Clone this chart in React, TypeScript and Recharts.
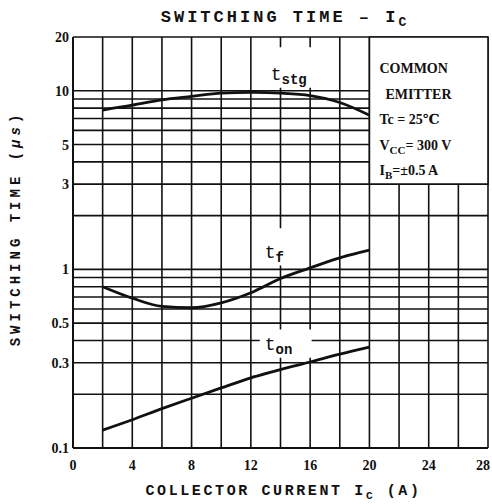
import React from 'react';
import { ComposedChart, Line, XAxis, YAxis, CartesianGrid, ReferenceArea } from 'recharts';

// collector current I_C (A)
const currents = [2, 4, 6, 8, 10, 12, 14, 16, 18, 20];
// switching times (us)
const tStg = [7.8, 8.3, 8.9, 9.3, 9.7, 9.8, 9.7, 9.4, 8.6, 7.3];
const tF = [0.8, 0.69, 0.62, 0.61, 0.65, 0.74, 0.89, 1.02, 1.16, 1.28];
const tOn = [0.126, 0.144, 0.166, 0.19, 0.217, 0.247, 0.275, 0.303, 0.335, 0.367];

const xGrid = [0, 2, 4, 6, 8, 10, 12, 14, 16, 18, 20, 22, 24, 26, 28];
const xLabels = [0, 4, 8, 12, 16, 20, 24, 28];
const yGrid = [0.1, 0.2, 0.3, 0.4, 0.5, 0.6, 0.7, 0.8, 0.9, 1, 2, 3, 4, 5, 6, 7, 8, 9, 10, 20];
const yLabels = [0.1, 0.3, 0.5, 1, 3, 5, 10, 20];

// curve name tags: [main, subscript, x1, x2, y1, y2]
const tags: [string, string, number, number, number, number][] = [
  ['t', 'stg', 13.0, 17.5, 10.4, 17.5],
  ['t', 'f', 12.6, 15.7, 1.05, 1.7],
  ['t', 'on', 12.6, 16.1, 0.32, 0.46],
];

// [indent, text, subscript, rest]
const conditions: [number, string, string, string][] = [
  [0, 'COMMON', '', ''],
  [6, 'EMITTER', '', ''],
  [0, 'Tc = 25℃', '', ''],
  [0, 'V', 'CC', '= 300 V'],
  [0, 'I', 'B', '=±0.5 A'],
];

const data = currents.map((c, i) => ({ ic: c, stg: tStg[i], f: tF[i], on: tOn[i] }));

const MONO = '"Liberation Mono", "DejaVu Sans Mono", monospace';
const SERIF = '"Liberation Serif", "DejaVu Serif", serif';

const TagLabel = ({ viewBox, main, sub }: any) => {
  if (!viewBox) return null;
  const x = viewBox.x + 5;
  const y = viewBox.y + viewBox.height - 8;
  return (
    <text x={x} y={y} fontFamily={MONO} fontSize={18} fill="#111">
      {main}
      <tspan dy={4} fontSize={14} fontWeight="bold">{sub}</tspan>
    </text>
  );
};

const ConditionsLabel = ({ viewBox }: any) => {
  if (!viewBox) return null;
  const x0 = viewBox.x + 10;
  const y0 = viewBox.y + 36;
  return (
    <g>
      {conditions.map(([indent, a, sub, rest], i) => (
        <text key={i} x={x0 + indent} y={y0 + i * 25.5} fontFamily={SERIF} fontSize={14} fontWeight="bold" fill="#111">
          {a}
          {sub && <tspan dy={4} fontSize={11}>{sub}</tspan>}
          {rest && <tspan dy={-4}>{rest}</tspan>}
        </text>
      ))}
    </g>
  );
};

const YTitle = ({ viewBox }: any) => {
  const cy = viewBox.y + viewBox.height / 2 - 14;
  return (
    <text
      x={16}
      y={cy}
      transform={`rotate(-90, 16, ${cy})`}
      textAnchor="middle"
      dominantBaseline="central"
      fontFamily={MONO}
      fontSize={14}
      fontWeight="bold"
      letterSpacing={4}
      fill="#111"
    >
      SWITCHING TIME{'   '}(<tspan fontStyle="italic">μs</tspan>)
    </text>
  );
};

const XTitle = ({ viewBox }: any) => {
  const cx = viewBox.x + viewBox.width / 2;
  return (
    <text x={cx + 3} y={495} textAnchor="middle" fontFamily={MONO} fontSize={15} fontWeight="bold" letterSpacing={2.6} fill="#111">
      COLLECTOR CURRENT{'  '}I<tspan dy={4} fontSize={11}>C</tspan>
      <tspan dy={-4}>{'  '}(A)</tspan>
    </text>
  );
};

const XTick = ({ x, y, payload }: any) => {
  const v = payload.value;
  if (!xLabels.includes(v)) return null;
  return (
    <text x={v === 28 ? x - 5 : x} y={y + 22} textAnchor="middle" fontFamily={SERIF} fontSize={14} fontWeight="bold" fill="#111">
      {v}
    </text>
  );
};

export default function App() {
  return (
    <div style={{ position: 'absolute', left: 0, top: 0, width: 492, height: 504, background: '#fff' }}>
      <div
        style={{
          position: 'absolute',
          top: 8,
          left: 0,
          width: 570,
          textAlign: 'center',
          fontFamily: MONO,
          fontWeight: 'bold',
          fontSize: 17,
          letterSpacing: 3,
          color: '#111',
          whiteSpace: 'pre',
        }}
      >
        SWITCHING TIME – I<sub style={{ fontSize: 13 }}>C</sub>
      </div>
      <ComposedChart width={492} height={504} data={data} margin={{ top: 37, right: 4, bottom: 0, left: 0 }}>
        <CartesianGrid stroke="#111" strokeWidth={1.6} />
        <XAxis
          dataKey="ic"
          type="number"
          domain={[0, 28]}
          ticks={xGrid}
          interval={0}
          tickLine={false}
          tickSize={0}
          tickMargin={0}
          height={56}
          axisLine={{ stroke: '#111', strokeWidth: 2 }}
          tick={<XTick />}
          label={<XTitle />}
        />
        <YAxis
          type="number"
          scale="log"
          domain={[0.1, 20]}
          ticks={yGrid}
          interval={0}
          allowDataOverflow
          width={73}
          tickLine={false}
          tickSize={0}
          tickMargin={4}
          axisLine={{ stroke: '#111', strokeWidth: 2 }}
          tickFormatter={(v: number) => (yLabels.includes(v) ? String(v) : '')}
          tick={{ fill: '#111', fontFamily: SERIF, fontSize: 14, fontWeight: 'bold' }}
          label={<YTitle />}
        />
        {tags.map(([m, s, x1, x2, y1, y2]) => (
          <ReferenceArea
            key={s}
            x1={x1}
            x2={x2}
            y1={y1}
            y2={y2}
            fill="#fff"
            fillOpacity={1}
            stroke="none"
            label={<TagLabel main={m} sub={s} />}
          />
        ))}
        <ReferenceArea
          x1={20}
          x2={28}
          y1={3}
          y2={20}
          fill="#fff"
          fillOpacity={1}
          stroke="#111"
          strokeWidth={1.6}
          label={<ConditionsLabel />}
        />
        <Line dataKey="stg" type="monotone" stroke="#111" strokeWidth={2.8} dot={false} isAnimationActive={false} />
        <Line dataKey="f" type="monotone" stroke="#111" strokeWidth={2.8} dot={false} isAnimationActive={false} />
        <Line dataKey="on" type="monotone" stroke="#111" strokeWidth={2.8} dot={false} isAnimationActive={false} />
      </ComposedChart>
    </div>
  );
}
